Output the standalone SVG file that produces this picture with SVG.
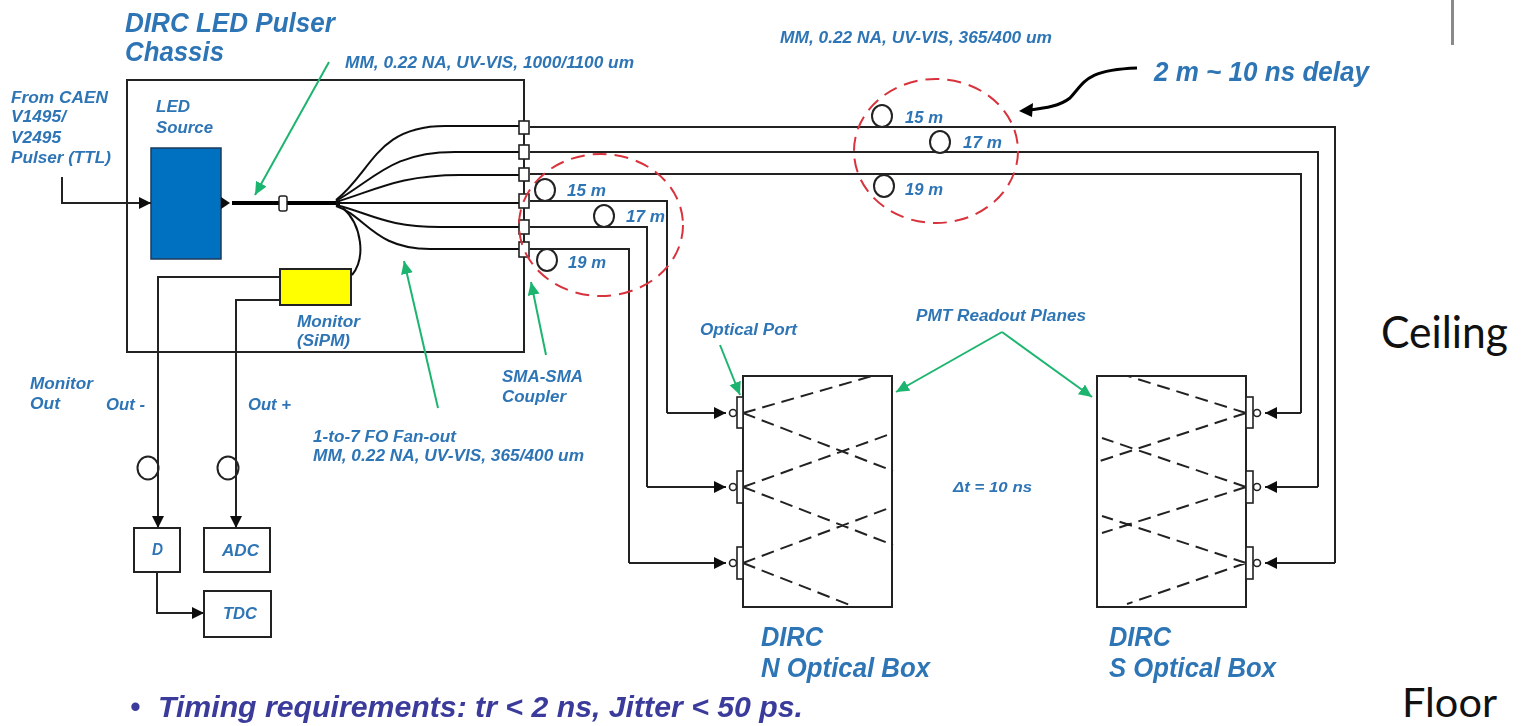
<svg xmlns="http://www.w3.org/2000/svg" width="1523" height="726" viewBox="0 0 1523 726">
<style>
text{font-family:"Liberation Sans",Arial,sans-serif;font-weight:bold;font-style:italic;fill:#2e75b6;font-size:16px}
.big{font-size:27px}
.tm{font-size:29px;fill:#3b3b9c}
.pl{font-family:Lato,"Open Sans",sans-serif;font-weight:normal;font-style:normal;fill:#111;font-size:44px}
.ln{fill:none;stroke:#222;stroke-width:2}
.box{fill:#fff;stroke:#222;stroke-width:2}
.coil{fill:#fff;stroke:#222;stroke-width:2}
.coiln{fill:none;stroke:#222;stroke-width:2}
.fan{fill:none;stroke:#111;stroke-width:2}
.gr{fill:none;stroke:#1fb56f;stroke-width:2;marker-end:url(#ga)}
.red{fill:none;stroke:#d8323c;stroke-width:2;stroke-dasharray:14 8}
.dash{fill:none;stroke:#222;stroke-width:2;stroke-dasharray:13 7}
.plate{fill:#fff;stroke:#222;stroke-width:1.6}
</style>
<defs>
<marker id="ba" markerUnits="userSpaceOnUse" markerWidth="14" markerHeight="14" refX="12" refY="6" orient="auto"><path d="M0 0L12 6L0 12Z" fill="#111"/></marker>
<marker id="ga" markerUnits="userSpaceOnUse" markerWidth="16" markerHeight="16" refX="13" refY="6" orient="auto"><path d="M0 0L13 6L0 12Z" fill="#1fb56f"/></marker>
<filter id="soft" x="-5%" y="-5%" width="110%" height="110%"><feGaussianBlur stdDeviation="0.5"/></filter>
</defs>
<g filter="url(#soft)">
<g id="chassis"><rect class="box" x="127" y="80" width="397" height="272" style="fill:none"/>
<text x="125" y="32" class="big" textLength="210" lengthAdjust="spacingAndGlyphs">DIRC LED Pulser</text>
<text x="125" y="61" class="big" textLength="99" lengthAdjust="spacingAndGlyphs">Chassis</text></g>
<g id="led-source"><rect x="151" y="148" width="70" height="111" fill="#0070c0" stroke="#1a3a5c" stroke-width="1.5"/>
<text x="156" y="112" textLength="34" lengthAdjust="spacingAndGlyphs">LED</text>
<text x="156" y="133" textLength="57" lengthAdjust="spacingAndGlyphs">Source</text></g>
<g id="monitor"><rect x="280" y="269" width="71" height="36" fill="#ffff00" stroke="#222" stroke-width="2"/>
<text x="297" y="327" textLength="63" lengthAdjust="spacingAndGlyphs">Monitor</text>
<text x="297" y="346" textLength="53" lengthAdjust="spacingAndGlyphs">(SiPM)</text></g>
<g id="connectors">
<path class="ln" marker-end="url(#ba)" d="M62 177V203H151"/>
<path d="M221 197L230 203L221 209Z" fill="#111"/>
<path d="M232 203H340" fill="none" stroke="#000" stroke-width="4"/>
<path class="fan" d="M336 200C372 172 376 126 445 126H520"/>
<path class="fan" d="M336 201C376 178 392 152 455 152H520"/>
<path class="fan" d="M336 202C376 190 400 175 460 175H520"/>
<path class="fan" d="M336 203H520"/>
<path class="fan" d="M336 205C372 214 386 227 440 227H520"/>
<path class="fan" d="M336 206C366 216 374 249 430 249H520"/>
<path class="fan" d="M343 208C362 225 366 258 352 275"/>
<path class="ln" d="M530 127H1335V563"/>
<path class="ln" d="M530 152H1318V487"/>
<path class="ln" d="M530 174H1301V413"/>
<path class="ln" d="M530 201H667V413"/>
<path class="ln" d="M530 227H647V487"/>
<path class="ln" d="M530 249H629V563"/>
<path class="ln" marker-end="url(#ba)" d="M667 413H726"/>
<path class="ln" marker-end="url(#ba)" d="M647 487H726"/>
<path class="ln" marker-end="url(#ba)" d="M629 563H726"/>
<path class="ln" marker-end="url(#ba)" d="M1301 413H1265"/>
<path class="ln" marker-end="url(#ba)" d="M1318 487H1265"/>
<path class="ln" marker-end="url(#ba)" d="M1335 563H1265"/>
<path class="ln" d="M280 277H158V528" marker-end="url(#ba)"/>
<path class="ln" d="M280 300H236V528" marker-end="url(#ba)"/>
<path class="ln" d="M157 572V613H204" marker-end="url(#ba)"/>
<path class="gr" d="M329 62L255 195"/>
<path class="gr" d="M438 408L404 261"/>
<path class="gr" d="M546 355L531 282"/>
<path class="gr" d="M720 345L740 395"/>
<path class="gr" d="M1002 332L896 392"/>
<path class="gr" d="M1002 332L1092 397"/>
<path d="M1137 68C1085 70 1085 82 1070 98C1060 106 1045 108 1030 110" fill="none" stroke="#000" stroke-width="3"/>
<path d="M1019 111L1033 103L1032 117Z" fill="#000"/>
</g>
<g id="inline-coupler"><rect x="279" y="196" width="8" height="15" rx="2" fill="#fff" stroke="#222" stroke-width="1.5"/></g>
<g id="sma-couplers">
<rect class="plate" x="519" y="121" width="10" height="13"/>
<rect class="plate" x="519" y="145" width="10" height="14"/>
<rect class="plate" x="519" y="168" width="10" height="13"/>
<rect class="plate" x="519" y="194" width="10" height="14"/>
<rect class="plate" x="519" y="220" width="10" height="14"/>
<rect class="plate" x="519" y="242" width="10" height="15"/>
<text x="502" y="382" textLength="81" lengthAdjust="spacingAndGlyphs">SMA-SMA</text>
<text x="502" y="402" textLength="64" lengthAdjust="spacingAndGlyphs">Coupler</text></g>
<g id="delay-lower">
<ellipse class="red" cx="601" cy="225" rx="82" ry="71"/>
<ellipse class="coil" cx="545" cy="190" rx="10" ry="11"/>
<ellipse class="coil" cx="604" cy="216" rx="10" ry="11"/>
<ellipse class="coil" cx="547" cy="260" rx="10" ry="11"/>
<text x="567" y="196" textLength="39" lengthAdjust="spacingAndGlyphs">15 m</text>
<text x="626" y="222" textLength="39" lengthAdjust="spacingAndGlyphs">17 m</text>
<text x="568" y="268" textLength="38" lengthAdjust="spacingAndGlyphs">19 m</text></g>
<g id="delay-upper">
<ellipse class="red" cx="936" cy="151" rx="82" ry="72"/>
<ellipse class="coil" cx="882" cy="116" rx="10" ry="11"/>
<ellipse class="coil" cx="940" cy="142" rx="10" ry="11"/>
<ellipse class="coil" cx="884" cy="186" rx="10" ry="11"/>
<text x="905" y="123" textLength="38" lengthAdjust="spacingAndGlyphs">15 m</text>
<text x="963" y="148" textLength="39" lengthAdjust="spacingAndGlyphs">17 m</text>
<text x="905" y="195" textLength="38" lengthAdjust="spacingAndGlyphs">19 m</text></g>
<g id="n-box"><rect class="box" x="743" y="376" width="149" height="231"/>
<path class="dash" d="M743 413L872 376M743 413L893 471M743 487L893 433M743 487L893 545M743 563L889 508M743 563L855 607"/>
<rect class="plate" x="737" y="397" width="6" height="31"/><rect class="plate" x="737" y="471" width="6" height="32"/><rect class="plate" x="737" y="547" width="6" height="32"/>
<circle class="plate" cx="733" cy="413" r="3.5"/><circle class="plate" cx="733" cy="487" r="3.5"/><circle class="plate" cx="733" cy="563" r="3.5"/>
<text x="761" y="646" class="big" textLength="62" lengthAdjust="spacingAndGlyphs">DIRC</text>
<text x="761" y="677" class="big" textLength="169" lengthAdjust="spacingAndGlyphs">N Optical Box</text></g>
<g id="s-box"><rect class="box" x="1097" y="376" width="149" height="231"/>
<path class="dash" d="M1246 413L1128 376M1246 413L1100 461M1246 487L1102 438M1246 487L1102 533M1246 563L1102 516M1246 563L1127 604"/>
<rect class="plate" x="1246" y="397" width="7" height="31"/><rect class="plate" x="1246" y="471" width="7" height="32"/><rect class="plate" x="1246" y="547" width="7" height="32"/>
<circle class="plate" cx="1257" cy="413" r="3.5"/><circle class="plate" cx="1257" cy="487" r="3.5"/><circle class="plate" cx="1257" cy="563" r="3.5"/>
<text x="1109" y="646" class="big" textLength="62" lengthAdjust="spacingAndGlyphs">DIRC</text>
<text x="1109" y="677" class="big" textLength="167" lengthAdjust="spacingAndGlyphs">S Optical Box</text></g>
<g id="readout">
<ellipse class="coil" cx="148" cy="468" rx="10.5" ry="11.5"/>
<ellipse class="coil" cx="228" cy="468" rx="10.5" ry="11.5"/>
<path class="coiln" d="M158 440V500M236 440V500"/>
<g id="d"><rect class="box" x="134" y="528" width="46" height="44"/><text x="152" y="555" textLength="11" lengthAdjust="spacingAndGlyphs">D</text></g>
<g id="adc"><rect class="box" x="204" y="528" width="66" height="44"/><text x="222" y="556" textLength="37" lengthAdjust="spacingAndGlyphs">ADC</text></g>
<g id="tdc"><rect class="box" x="204" y="591" width="67" height="46" style="fill:none"/><text x="223" y="619" textLength="34" lengthAdjust="spacingAndGlyphs">TDC</text></g>
</g>
<g id="labels">
<text x="345" y="68" textLength="289" lengthAdjust="spacingAndGlyphs">MM, 0.22 NA, UV-VIS, 1000/1100 um</text>
<text x="780" y="43" textLength="272" lengthAdjust="spacingAndGlyphs">MM, 0.22 NA, UV-VIS, 365/400 um</text>
<text x="1154" y="81" class="big" textLength="215" lengthAdjust="spacingAndGlyphs">2 m ~ 10 ns delay</text>
<text x="11" y="103" textLength="97" lengthAdjust="spacingAndGlyphs">From CAEN</text>
<text x="11" y="122" textLength="55" lengthAdjust="spacingAndGlyphs">V1495/</text>
<text x="11" y="143" textLength="50" lengthAdjust="spacingAndGlyphs">V2495</text>
<text x="11" y="163" textLength="100" lengthAdjust="spacingAndGlyphs">Pulser (TTL)</text>
<text x="30" y="389" textLength="63" lengthAdjust="spacingAndGlyphs">Monitor</text>
<text x="30" y="409" textLength="30" lengthAdjust="spacingAndGlyphs">Out</text>
<text x="106" y="410" textLength="39" lengthAdjust="spacingAndGlyphs">Out -</text>
<text x="248" y="410" textLength="43" lengthAdjust="spacingAndGlyphs">Out +</text>
<text x="313" y="442" textLength="143" lengthAdjust="spacingAndGlyphs">1-to-7 FO Fan-out</text>
<text x="313" y="461" textLength="271" lengthAdjust="spacingAndGlyphs">MM, 0.22 NA, UV-VIS, 365/400 um</text>
<text x="700" y="335" textLength="97" lengthAdjust="spacingAndGlyphs">Optical Port</text>
<text x="916" y="321" textLength="170" lengthAdjust="spacingAndGlyphs">PMT Readout Planes</text>
<text x="953" y="492" style="font-size:14px" textLength="79" lengthAdjust="spacingAndGlyphs">Δt = 10 ns</text>
<text x="130" y="717" class="tm">•</text>
<text x="158" y="717" class="tm" textLength="645" lengthAdjust="spacingAndGlyphs">Timing requirements: tr &lt; 2 ns, Jitter &lt; 50 ps.</text>
</g>
</g>
<rect id="edge" x="1451" y="0" width="3" height="45" fill="#8a8a8a"/>
<text x="1381" y="348" class="pl" textLength="127" lengthAdjust="spacingAndGlyphs">Ceiling</text>
<text x="1402" y="717" class="pl" style="font-size:41px" textLength="95" lengthAdjust="spacingAndGlyphs">Floor</text>
</svg>
